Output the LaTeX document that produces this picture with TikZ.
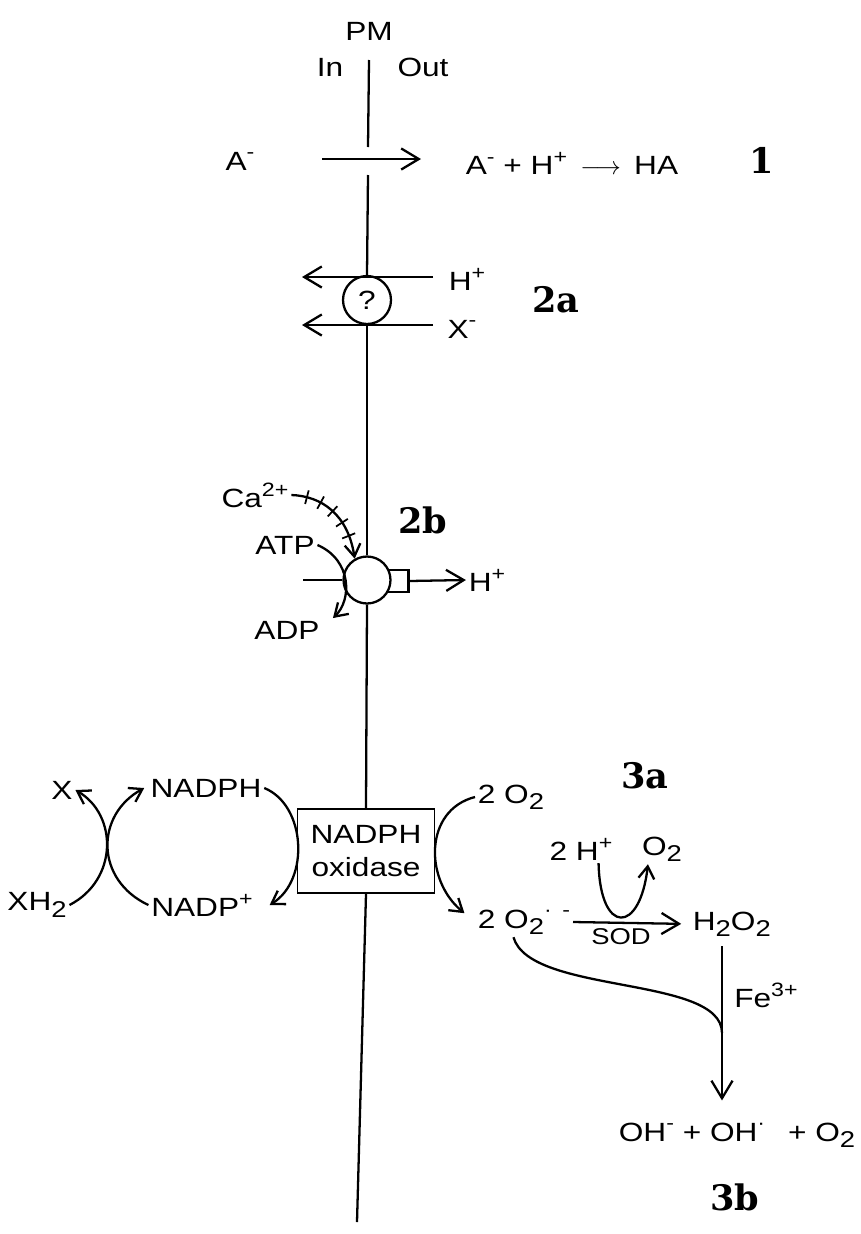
\documentclass[tikz,border=0pt]{standalone}
\usepackage{fontspec}
\setmainfont{Liberation Sans}[FakeStretch=1.2]
\newfontfamily\tagserif{DejaVu Serif}
\usetikzlibrary{arrows.meta, decorations.markings}
\newcommand\lblfont{\fontsize{15}{19}\selectfont}
\newcommand\tagfont{\tagserif\bfseries\fontsize{20}{22}\selectfont}
\newcommand\lowsub[1]{\raisebox{-0.45ex}{\fontsize{13}{13}\selectfont #1}}
\newcommand\highsup[1]{\raisebox{0.8ex}{\fontsize{11}{11}\selectfont #1}}
\tikzset{
  every picture/.style={line width=1.3pt},
  lbl/.style={font=\lblfont, inner sep=1pt},
  tag/.style={font=\tagfont, inner sep=1pt},
  arrow/.style={-{Straight Barb[length=10pt,width=12pt]}},
  barb/.style={-{Straight Barb[length=7pt,width=9pt]}},
  box/.style={draw, font=\lblfont, align=center, minimum width=2.74cm, minimum height=1.68cm, inner sep=2pt, line width=1.1pt},
  ball/.style={draw, circle, fill=white, inner sep=0pt},
  ticked/.style={postaction={decorate, decoration={markings,
      mark=between positions 0.16 and 0.76 step 0.15 with {\draw[-, line width=1pt] (0pt,-4pt) -- (0pt,4pt);}}}},
}

\begin{document}
\begin{tikzpicture}[x=0.02cm, y=-0.02cm]
  \useasboundingbox (0,0) rectangle (861,1234);

  % plasma membrane
  \node[lbl] (pm) at (369,31) {PM};
  \node[lbl] (inside) at (330,67) {In};
  \node[lbl] (outside) at (423,67) {Out};
  \coordinate (mtop) at (369,60);
  \coordinate (gapa) at (368,147);
  \coordinate (gapb) at (368,175);
  \coordinate (mbot) at (357,1222);

  % 1: weak acid
  \node[lbl] (am) at (240,161) {A\highsup{-}};
  \node[lbl] (reac1) at (572,163) {A\highsup{-} + H\highsup{+} \,$\longrightarrow$\, HA};
  \node[tag] (n1) at (762,160) {1};
  \coordinate (a1s) at (322,159);
  \coordinate (a1e) at (421,159);
  \draw[arrow] (a1s) -- (a1e);

  % 2a: exchanger
  \node[ball, minimum size=0.96cm] (q) at (367,300) {\lblfont ?};
  \node[lbl] (hp2) at (467,279) {H\highsup{+}};
  \node[lbl] (xm2) at (462,329) {X\highsup{-}};
  \node[tag] (n2a) at (556,300) {2a};
  \coordinate (h2s) at (433,277);
  \coordinate (h2e) at (302,277);
  \coordinate (x2s) at (433,325);
  \coordinate (x2e) at (302,325);
  \draw[arrow] (h2s) -- (h2e);
  \draw[arrow] (x2s) -- (x2e);

  % 2b: proton pump
  \node[draw, minimum width=0.42cm, minimum height=0.44cm, inner sep=0pt] (nub) at (398,581) {};
  \node[ball, minimum size=0.94cm] (pump) at (367,580) {};
  \node[lbl] (hp3) at (487,580) {H\highsup{+}};
  \node[lbl] (ca) at (255,495) {Ca\highsup{2+}};
  \node[lbl] (atp) at (285,545) {ATP};
  \node[lbl] (adp) at (287,630) {ADP};
  \node[tag] (n2b) at (423,520) {2b};
  \coordinate (pin) at (303,580);
  \draw (pin) -- (pump.west);
  \draw[arrow] (nub.east) -- (hp3.west);
  \draw[barb, ticked] (ca.east) .. controls (322,496) and (348,515) .. (pump.120);
  \draw[barb] (atp.east) .. controls (352,560) and (352,600) .. ([xshift=6pt]adp.north east);

  % 3a: NADPH oxidase
  \node[box] (box) at (366,851) {NADPH\\oxidase};
  \node[lbl] (nadph) at (206,788) {NADPH};
  \node[lbl] (nadpp) at (202,905) {NADP\highsup{+}};
  \node[lbl] (xl) at (62,790) {X};
  \node[lbl] (xh2) at (37,905) {XH\lowsub{2}};
  \draw[barb] (xh2.east) .. controls (118,880) and (118,815) .. (xl.east);
  \draw[barb] (nadpp.west) .. controls (95,880) and (95,815) .. ([xshift=-2pt]nadph.west);
  \draw[barb] (nadph.east) .. controls (306,805) and (310,880) .. ([xshift=8pt]nadpp.east);

  \node[lbl, anchor=west] (o2a) at (475,797) {2 O\lowsub{2}};
  \node[lbl, anchor=west] (o2r) at (475,922) {2 O\lowsub{2}\highsup{·\hspace{6pt}-}};
  \node[lbl, anchor=west] (h2o2) at (690,924) {H\lowsub{2}O\lowsub{2}};
  \node[lbl] (twoh) at (581,849) {2 H\highsup{+}};
  \node[lbl] (o2b) at (662,849) {O\lowsub{2}};
  \node[lbl, font=\fontsize{13}{15}\selectfont] (sod) at (621,937) {SOD};
  \node[tag] (n3a) at (645,776) {3a};
  \draw[barb] (o2a.west) .. controls (424,810) and (424,880) .. ([shift={(-6pt,5pt)}]o2r.west);
  \draw[arrow, shorten >=5pt] (o2r.east) -- (h2o2.west);
  \draw[barb] ([xshift=10pt]twoh.south) .. controls (600,935) and (640,935) .. ([xshift=-8pt]o2b.south);

  % 3b: Haber-Weiss
  \node[lbl] (fe) at (766,995) {Fe\highsup{3+}};
  \node[lbl] (prod) at (737,1135) {OH\highsup{-} + OH\highsup{·}\hspace{8pt} + O\lowsub{2}};
  \node[tag] (n3b) at (735,1197) {3b};
  \coordinate (fj) at (722,1033);
  \draw[arrow] ([yshift=-4pt]h2o2.south -| fj) -- ([yshift=11pt]prod.north -| fj);
  \draw ([xshift=-6pt]o2r.south) .. controls (530,995) and (722,975) .. (fj);

  % membrane segments
  \draw (mtop) -- (gapa);
  \draw (gapb) -- (q.north);
  \draw (q.south) -- (pump.north);
  \draw (pump.south) -- (box.north);
  \draw (box.south) -- (mbot);
\end{tikzpicture}
\end{document}
